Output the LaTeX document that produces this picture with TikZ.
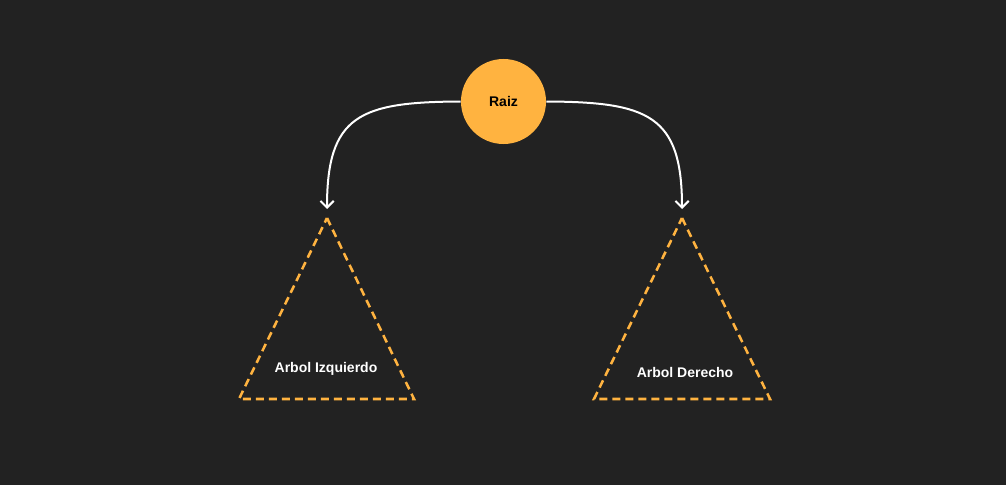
\documentclass[tikz,border=0pt]{standalone}
\usepackage{fontspec}
\setmainfont{Liberation Sans}
\usetikzlibrary{arrows.meta}
\definecolor{fondo}{HTML}{222222}
\definecolor{naranja}{HTML}{FFB340}

\begin{document}
\begin{tikzpicture}[x=0.75pt,y=-0.75pt,
    raiz/.style={circle,fill=naranja,minimum size=63.75pt,inner sep=0pt,font=\bfseries\fontsize{10.5}{12}\selectfont,text=black},
    subarbol/.style={draw=naranja,dashed,dash pattern=on 6pt off 3.75pt,line width=1.9pt},
    etiqueta/.style={text=white,font=\bfseries\fontsize{10.5}{12}\selectfont},
    rama/.style={draw=white,line width=1.5pt,-{Straight Barb[length=5pt,width=10pt,line width=1.5pt]}}]
    \fill[fondo] (0,0) rectangle (1006,485);
    \useasboundingbox (0,0) rectangle (1006,485);

    \node[raiz] (raiz) at (503.5,101.5) {Raiz};

    % subarboles
    \coordinate (izqtop) at (327,218);
    \coordinate (dertop) at (682,218);
    \draw[subarbol] (izqtop) -- (414,399) -- (239,399) -- cycle;
    \draw[subarbol] (dertop) -- (770,399) -- (594,399) -- cycle;
    \node[etiqueta] (izq) at (326,369) {Arbol Izquierdo};
    \node[etiqueta] (der) at (685,372) {Arbol Derecho};

    % ramas
    \coordinate (izqfin) at (327,209);
    \coordinate (derfin) at (682,209);
    \draw[rama] (raiz.west) .. controls (360,102) and (327,115) .. (izqfin);
    \draw[rama] (raiz.east) .. controls (648,102) and (682,115) .. (derfin);
\end{tikzpicture}
\end{document}
